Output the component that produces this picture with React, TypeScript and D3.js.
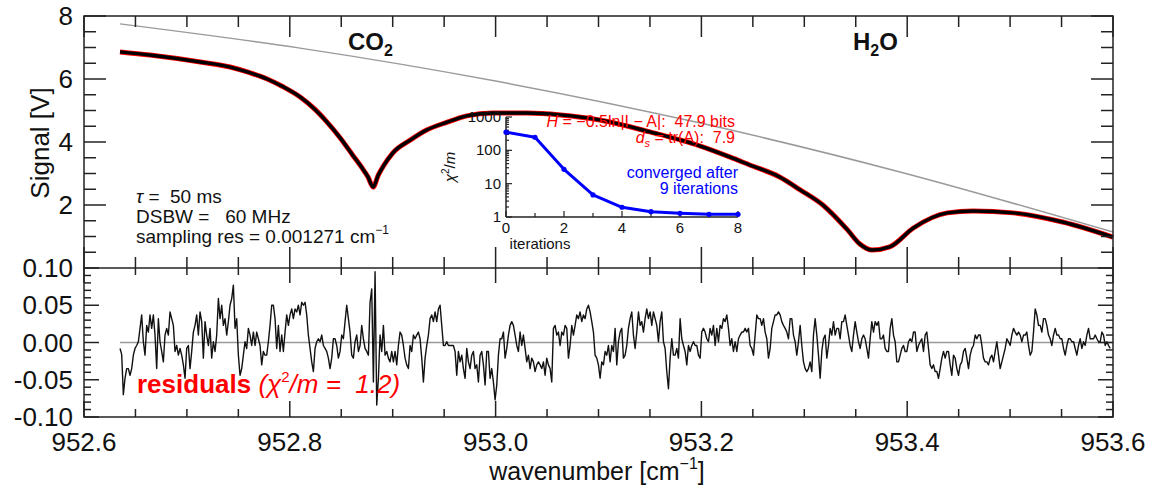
import React from 'react';
import * as d3 from 'd3';

const W = 1162;
const H = 488;
const FONT = "'Liberation Sans', Arial, Helvetica, sans-serif";

// axes
const xDomain = [952.6, 953.6];
const xTickValues = [952.6, 952.8, 953.0, 953.2, 953.4, 953.6];
const xTickLabels = ['952.6', '952.8', '953.0', '953.2', '953.4', '953.6'];
const signalTickValues = [2, 4, 6, 8];
const signalTickLabels = ['2', '4', '6', '8'];
const residTickValues = [-0.1, -0.05, 0, 0.05, 0.1];
const residTickLabels = ['-0.10', '-0.05', '0.00', '0.05', '0.10'];

// fitted transmission signal (V)
const fitWavenumber = [952.635, 952.664, 952.713, 952.742, 952.761, 952.778, 952.793, 952.810, 952.824, 952.836, 952.849, 952.861, 952.871, 952.876, 952.881, 952.886, 952.891, 952.900, 952.917, 952.933, 952.953, 952.972, 952.997, 953.031, 953.063, 953.101, 953.150, 953.199, 953.228, 953.247, 953.276, 953.296, 953.318, 953.342, 953.354, 953.366, 953.383, 953.406, 953.439, 953.464, 953.503, 953.551, 953.600];
const fitSignal = [6.86, 6.76, 6.54, 6.38, 6.20, 6.00, 5.76, 5.43, 5.05, 4.64, 4.13, 3.59, 3.14, 2.89, 2.57, 2.95, 3.24, 3.65, 4.06, 4.38, 4.63, 4.83, 4.92, 4.92, 4.86, 4.70, 4.32, 3.87, 3.52, 3.27, 2.89, 2.48, 2.00, 1.21, 0.76, 0.57, 0.67, 1.27, 1.75, 1.81, 1.75, 1.46, 0.98];

// baseline (gray)
const baselineWavenumber = [952.635, 952.810, 953.004, 953.199, 953.393, 953.600];
const baselineSignal = [7.75, 6.98, 5.91, 4.60, 3.05, 1.14];

// residuals, regularly sampled
const residStart = 952.635;
const residStep = 0.00162;
const residuals = [
  -0.008, -0.016, -0.070, -0.048, -0.035, -0.035, -0.044, -0.035, -0.017, -0.008,
  -0.004, 0.001, 0.019, 0.037, 0.001, -0.017, 0.023, 0.014, 0.037, 0.019,
  0.037, 0.010, -0.035, 0.032, 0.001, -0.012, -0.026, 0.010, 0.019, 0.010,
  0.041, 0.032, 0.023, -0.012, -0.004, -0.017, -0.008, -0.017, -0.030, -0.048,
  -0.008, -0.004, -0.035, -0.012, 0.014, 0.023, 0.037, 0.010, 0.041, 0.028,
  -0.021, 0.028, 0.010, -0.004, 0.019, -0.021, 0.001, -0.012, 0.010, 0.059,
  0.032, 0.050, 0.023, 0.032, 0.010, 0.028, 0.050, 0.059, 0.077, 0.019,
  0.032, -0.017, -0.044, -0.035, -0.017, 0.001, -0.008, 0.019, 0.010, -0.004,
  0.014, -0.004, 0.014, 0.005, -0.004, -0.030, -0.012, -0.017, -0.017, 0.001,
  0.023, 0.050, 0.050, 0.032, -0.008, 0.023, -0.012, 0.010, -0.012, 0.014,
  0.037, 0.023, 0.037, 0.045, 0.032, 0.045, 0.041, 0.050, 0.037, 0.054,
  0.050, 0.054, 0.037, 0.010, -0.008, -0.026, -0.039, -0.008, 0.001, 0.005,
  0.001, 0.010, -0.004, -0.008, -0.012, -0.021, -0.035, -0.021, 0.005, 0.005,
  -0.004, -0.021, -0.012, 0.010, 0.005, 0.028, 0.050, 0.032, 0.014, -0.017,
  -0.021, 0.001, 0.010, -0.012, -0.004, 0.023, 0.005, -0.008, -0.012, -0.017,
  0.054, 0.072, -0.053, 0.095, -0.084, -0.048, 0.010, -0.012, 0.023, -0.017,
  -0.012, -0.021, -0.026, -0.012, -0.026, -0.012, -0.030, -0.004, 0.014, 0.010,
  -0.004, -0.021, -0.030, -0.035, -0.004, -0.012, 0.010, 0.005, 0.010, 0.014,
  0.005, -0.021, -0.053, -0.021, -0.004, 0.010, 0.032, 0.037, 0.028, 0.041,
  0.028, 0.045, 0.050, 0.023, -0.004, -0.004, 0.001, -0.004, -0.004, -0.004,
  -0.004, -0.012, -0.044, -0.012, -0.026, -0.017, -0.035, -0.048, -0.008, -0.026,
  -0.035, -0.017, -0.012, -0.035, -0.030, -0.053, -0.017, -0.012, -0.030, -0.057,
  -0.012, -0.012, -0.048, -0.035, -0.053, -0.077, -0.057, -0.017, 0.005, 0.005,
  0.014, -0.021, -0.008, 0.010, 0.023, 0.028, 0.023, 0.010, -0.004, -0.012,
  0.014, -0.004, 0.010, -0.008, -0.026, -0.017, -0.035, -0.021, -0.026, -0.039,
  -0.030, -0.026, -0.030, -0.035, -0.026, -0.044, -0.021, -0.030, -0.035, -0.053,
  0.019, 0.023, 0.010, 0.014, -0.004, 0.014, 0.010, 0.023, 0.019, -0.021,
  -0.004, 0.023, 0.010, 0.023, 0.037, 0.032, 0.041, 0.028, 0.037, 0.032,
  0.045, 0.050, 0.041, 0.028, 0.014, -0.017, -0.021, -0.030, -0.048, -0.026,
  -0.030, -0.012, -0.017, -0.004, -0.026,
  -0.004, -0.012, 0.019, -0.030, 0.001, 0.014, 0.019, -0.021, -0.017, -0.004,
  0.019, 0.032, 0.041, 0.010, -0.008, 0.014, 0.041, 0.023, 0.028, 0.014,
  0.032, 0.045, 0.032, 0.041, 0.023, 0.041, 0.032, 0.023, 0.001, 0.028,
  0.041, 0.001, -0.008, -0.039, -0.062, -0.021, 0.005, -0.017, -0.017, -0.008,
  -0.021, 0.032, 0.005, -0.004, -0.012, -0.030, -0.004, -0.012, -0.004, 0.001,
  -0.004, -0.004, -0.017, -0.021, 0.014, 0.019, 0.014, 0.005, 0.001, 0.019,
  0.010, 0.023, -0.004, 0.019, 0.001, 0.023, 0.019, 0.032, 0.028, 0.037,
  0.019, -0.004, 0.005, -0.012, 0.001, -0.012, 0.005, 0.010, 0.014, 0.014,
  0.019, 0.014, 0.019, -0.004, -0.008, -0.017, 0.010, 0.037, 0.032, 0.032,
  0.023, 0.032, 0.014, 0.005, -0.021, -0.008, 0.019, 0.028, 0.037, 0.037,
  0.041, 0.037, 0.028, 0.023, 0.019, 0.014, 0.005, 0.032, 0.032, 0.010,
  0.001, -0.017, 0.001, 0.023, -0.004, -0.026, -0.035, -0.039, -0.035, -0.026,
  -0.039, 0.010, 0.032, 0.010, -0.017, -0.048, -0.012, 0.005, 0.010, -0.021,
  -0.004, 0.019, 0.010, 0.028, 0.010, 0.019, 0.019, 0.005, 0.028, 0.028,
  0.037, 0.023, 0.010, -0.004, -0.012, 0.010, 0.028, 0.014, 0.001, -0.008,
  0.005, 0.010, 0.005, -0.008, -0.021, 0.005, 0.028, 0.014, 0.028, 0.023,
  0.028, 0.005, 0.005, 0.010, -0.008, -0.012, -0.012, 0.019, 0.032, 0.010,
  0.001, -0.026, -0.026, -0.017, -0.008, -0.004, -0.012, -0.012, 0.001, 0.005,
  0.001, 0.014, 0.014, -0.012, -0.004, 0.001, 0.005, -0.012, 0.010, 0.014,
  -0.008, -0.030, -0.035, -0.030, -0.039, -0.039, -0.048, -0.035, -0.021, -0.012,
  -0.021, -0.012, -0.012, -0.030, -0.044, -0.017, -0.021, -0.035, -0.044, -0.030,
  -0.026, -0.012, -0.008, -0.021, -0.035, -0.017, -0.008, -0.004, 0.010, 0.005,
  0.010, 0.010, -0.004, -0.021, -0.026, -0.026, -0.030, -0.021, -0.017, -0.026,
  -0.012, 0.001, -0.017, -0.035, -0.026, -0.017, -0.008, 0.005, 0.001, -0.004,
  0.010, 0.019, 0.014, 0.010, 0.014, 0.010, 0.001, 0.010, 0.010, 0.014,
  -0.004, -0.017, -0.012, 0.014, 0.045, 0.037, 0.023, 0.023, 0.014, 0.032,
  0.032, 0.023, 0.010, 0.005, -0.004, 0.010, 0.019, 0.010, 0.010, 0.005,
  0.005, -0.008, -0.017, -0.004, 0.005, 0.005, 0.001, 0.001, -0.008, -0.017,
  -0.004, 0.005, -0.008, 0.001, -0.004, 0.010, 0.019, 0.005, 0.005, 0.005,
  0.010, 0.005, 0.001, 0.001, 0.014, 0.010, -0.004, 0.001, -0.004, -0.008,
];

// inset: convergence
const iterations = [0, 1, 2, 3, 4, 5, 6, 7, 8];
const chi2 = [350, 247, 27, 4.6, 1.96, 1.44, 1.29, 1.2, 1.2];
const insetXTicks = [0, 2, 4, 6, 8];
const insetYTicks = [1, 10, 100, 1000];
const insetYLabels = ['1', '10', '100', '1000'];

const AX = '#222';

export default function App() {
  const x = d3.scaleLinear().domain(xDomain).range([84, 1113]);
  const ySig = d3.scaleLinear().domain([0, 8]).range([268, 16]);
  const yRes = d3.scaleLinear().domain([-0.1, 0.1]).range([417, 268]);
  const xIn = d3.scaleLinear().domain([0, 8]).range([506, 738]);
  const yIn = d3.scaleLog().domain([1, 1000]).range([217, 117]);

  const fitPath = d3
    .line<number>()
    .x((_, i) => x(fitWavenumber[i]))
    .y((d) => ySig(d))
    .curve(d3.curveMonotoneX)(fitSignal) as string;

  const basePath = d3
    .line<number>()
    .x((_, i) => x(baselineWavenumber[i]))
    .y((d) => ySig(d))
    .curve(d3.curveMonotoneX)(baselineSignal) as string;

  const residPath = d3
    .line<number>()
    .x((_, i) => x(residStart + i * residStep))
    .y((d) => yRes(d))(residuals) as string;

  const chiPath = d3
    .line<number>()
    .x((_, i) => xIn(iterations[i]))
    .y((d) => yIn(d))(chi2) as string;

  const xMinor = d3.range(0, 21).map((i) => ({ v: xDomain[0] + i * 0.05, major: i % 4 === 0 }));
  const sigMinor = d3.range(1, 17).map((i) => ({ v: i * 0.5, major: i % 4 === 0 }));
  const resMinor = d3.range(0, 21).map((i) => ({ v: -0.1 + i * 0.01, major: i % 5 === 0 }));
  const inYMinor: { v: number; major: boolean }[] = [];
  [1, 10, 100].forEach((dec) => {
    for (let k = 1; k <= 9; k++) inYMinor.push({ v: dec * k, major: k === 1 });
  });
  inYMinor.push({ v: 1000, major: true });

  const tick = (key: string, x1: number, y1: number, x2: number, y2: number) => (
    <line key={key} x1={x1} y1={y1} x2={x2} y2={y2} stroke={AX} strokeWidth={1.5} />
  );

  return (
    <svg
      width={W}
      height={H}
      style={{ position: 'absolute', left: 0, top: 0, background: '#fff', fontFamily: FONT }}
    >
      <rect x={0} y={0} width={W} height={H} fill="#fff" />

      {/* baseline */}
      <path d={basePath} fill="none" stroke="#9a9a9a" strokeWidth={1.5} />
      {/* fit (red) and measured (black) */}
      <path d={fitPath} fill="none" stroke="#ff0000" strokeWidth={5} strokeLinejoin="round" />
      <path d={fitPath} fill="none" stroke="#000" strokeWidth={3.4} strokeLinejoin="round" />

      {/* residual zero line and residuals */}
      <line x1={x(residStart)} x2={1113} y1={yRes(0)} y2={yRes(0)} stroke="#999" strokeWidth={1.5} />
      <path d={residPath} fill="none" stroke="#111" strokeWidth={1.4} strokeLinejoin="round" />

      {/* frames */}
      <rect x={84} y={16} width={1029} height={401} fill="none" stroke={AX} strokeWidth={1.5} />
      <line x1={84} x2={1113} y1={268} y2={268} stroke={AX} strokeWidth={1.5} />

      {/* x ticks */}
      {xMinor.map((t, i) => {
        const px = x(t.v);
        return (
          <g key={'xt' + i}>
            {tick('a', px, 16, px, 16 + (t.major ? 21 : 11))}
            {tick('b', px, 268, px, 268 - (t.major ? 21 : 11))}
            {tick('c', px, 268, px, 268 + (t.major ? 15 : 7))}
            {tick('d', px, 417, px, 417 - (t.major ? 16 : 8))}
          </g>
        );
      })}
      {/* signal y ticks */}
      {sigMinor.map((t, i) => {
        const py = ySig(t.v);
        return (
          <g key={'st' + i}>
            {tick('a', 84, py, 84 + (t.major ? 22 : 12), py)}
            {tick('b', 1113, py, 1113 - (t.major ? 22 : 12), py)}
          </g>
        );
      })}
      {/* residual y ticks */}
      {resMinor.map((t, i) => {
        const py = yRes(t.v);
        return (
          <g key={'rt' + i}>
            {tick('a', 84, py, 84 + (t.major ? 15 : 7), py)}
            {tick('b', 1113, py, 1113 - (t.major ? 15 : 7), py)}
          </g>
        );
      })}

      {/* tick labels */}
      {xTickValues.map((v, i) => (
        <text key={'xl' + i} x={x(v)} y={451} fontSize={26} textAnchor="middle" fill="#111">
          {xTickLabels[i]}
        </text>
      ))}
      {signalTickValues.map((v, i) => (
        <text key={'sl' + i} x={73} y={ySig(v) + 9} fontSize={26} textAnchor="end" fill="#111">
          {signalTickLabels[i]}
        </text>
      ))}
      {residTickValues.map((v, i) => (
        <text key={'rl' + i} x={73} y={yRes(v) + 9} fontSize={26} textAnchor="end" fill="#111">
          {residTickLabels[i]}
        </text>
      ))}

      {/* axis titles */}
      <text x={597} y={480} fontSize={25} textAnchor="middle" fill="#111">
        wavenumber [cm
        <tspan fontSize={16} dy={-11}>−1</tspan>
        <tspan dy={11}>]</tspan>
      </text>
      <text transform="translate(49,143) rotate(-90)" fontSize={26} textAnchor="middle" fill="#111">
        Signal [V]
      </text>

      {/* species labels */}
      <text x={348} y={50} fontSize={24} fontWeight="bold" fill="#111">
        CO<tspan fontSize={16} dy={6}>2</tspan>
      </text>
      <text x={853} y={50} fontSize={24} fontWeight="bold" fill="#111">
        H<tspan fontSize={16} dy={6}>2</tspan>
        <tspan dy={-6}>O</tspan>
      </text>

      {/* parameter text */}
      <g fontSize={19} fill="#111">
        <text x={136} y={203} style={{ whiteSpace: 'pre' }}>
          <tspan fontStyle="italic">τ</tspan>{' =  50 ms'}
        </text>
        <text x={136} y={223} style={{ whiteSpace: 'pre' }}>{'DSBW =   60 MHz'}</text>
        <text x={136} y={243} style={{ whiteSpace: 'pre' }}>
          {'sampling res = 0.001271 cm'}
          <tspan fontSize={12} dy={-9}>−1</tspan>
        </text>
      </g>

      {/* residual label */}
      <text x={137} y={393} fontSize={26} fill="#ff0000" style={{ whiteSpace: 'pre' }}>
        <tspan fontWeight="bold">residuals</tspan>
        <tspan fontStyle="italic">{' (χ'}</tspan>
        <tspan fontSize={15} dy={-11}>2</tspan>
        <tspan dy={11} fontStyle="italic">{'/m =  1.2)'}</tspan>
      </text>

      {/* inset */}
      <g>
        <line x1={506} x2={506} y1={117} y2={217} stroke={AX} strokeWidth={1.5} />
        <line x1={506} x2={738} y1={217} y2={217} stroke={AX} strokeWidth={1.5} />
        {iterations.map((v) => (
          <line key={'ix' + v} x1={xIn(v)} x2={xIn(v)} y1={217} y2={217 - (v % 2 === 0 ? 6 : 4)} stroke={AX} strokeWidth={1.2} />
        ))}
        {inYMinor.map((t, i) => (
          <line key={'iy' + i} x1={506} x2={506 + (t.major ? 6 : 3)} y1={yIn(t.v)} y2={yIn(t.v)} stroke={AX} strokeWidth={1.2} />
        ))}
        {insetXTicks.map((v) => (
          <text key={'ixl' + v} x={xIn(v)} y={233} fontSize={15} textAnchor="middle" fill="#111">
            {String(v)}
          </text>
        ))}
        {insetYTicks.map((v, i) => (
          <text key={'iyl' + i} x={501} y={yIn(v) + 5} fontSize={15} textAnchor="end" fill="#111">
            {insetYLabels[i]}
          </text>
        ))}
        <text x={540} y={249} fontSize={15} textAnchor="middle" fill="#111">iterations</text>
        <text transform="translate(455,167) rotate(-90)" fontSize={15} textAnchor="middle" fill="#111">
          <tspan fontStyle="italic">χ</tspan>
          <tspan fontSize={10} dy={-6}>2</tspan>
          <tspan dy={6}>/</tspan>
          <tspan fontStyle="italic">m</tspan>
        </text>
        <path d={chiPath} fill="none" stroke="#0000ff" strokeWidth={3} strokeLinejoin="round" />
        {chi2.map((v, i) => (
          <circle key={'ic' + i} cx={xIn(iterations[i])} cy={yIn(v)} r={2.6} fill="#0000ff" />
        ))}
        <text x={738} y={178} fontSize={16} textAnchor="end" fill="#0000ff">converged after</text>
        <text x={738} y={194} fontSize={16} textAnchor="end" fill="#0000ff">9 iterations</text>
        <text x={735} y={127} fontSize={16} textAnchor="end" fill="#ff0000" style={{ whiteSpace: 'pre' }}>
          <tspan fontStyle="italic">H</tspan>
          {' = −0.5ln|I − A|:  47.9 bits'}
        </text>
        <text x={735} y={143} fontSize={16} textAnchor="end" fill="#ff0000" style={{ whiteSpace: 'pre' }}>
          <tspan fontStyle="italic">d</tspan>
          <tspan fontSize={11} dy={4} fontStyle="italic">s</tspan>
          <tspan dy={-4}>{' = tr(A):  7.9'}</tspan>
        </text>
      </g>
    </svg>
  );
}
